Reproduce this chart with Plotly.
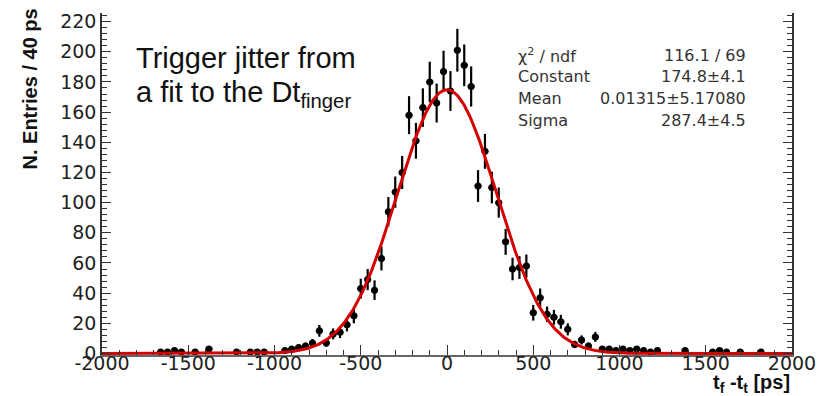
import numpy as np
import plotly.graph_objects as go

# Histogram bin centres (ps) and entries (only non-empty bins drawn)
bin_centers = [-1660, -1620, -1580, -1540, -1460, -1380, -1220, -1140, -1100, -1060,
               -940, -900, -860, -820, -780, -740, -700, -660, -620, -580,
               -540, -500, -460, -420, -380, -340, -300, -260, -220, -180,
               -140, -100, -60, -20, 20, 60, 100, 140, 180, 220,
               260, 300, 340, 380, 420, 460, 500, 540, 580, 620,
               660, 700, 740, 780, 820, 860, 900, 940, 980, 1020,
               1060, 1100, 1140, 1180, 1220, 1380, 1540, 1580, 1620, 1700, 1820]
entries = [1, 1, 2, 1, 1, 3, 1, 1, 1, 1,
           2, 3, 4, 5, 7, 15, 7, 13, 14, 19,
           25, 43, 49, 42, 63, 94, 107, 120, 158, 141,
           163, 180, 166, 187, 174, 201, 191, 177, 111, 134,
           110, 100, 74, 56, 57, 58, 27, 37, 26, 24,
           21, 16, 6, 9, 5, 11, 3, 3, 2, 3,
           2, 3, 2, 1, 2, 2, 1, 2, 1, 1, 1]
bin_half_width = 20

# Fit parameters (Gaussian)
fit_constant = 174.8
fit_mean = 0.01315
fit_sigma = 287.4

x_tick_vals = [-2000, -1500, -1000, -500, 0, 500, 1000, 1500, 2000]
x_tick_text = ["-2000", "-1500", "-1000", "-500", "0", "500", "1000", "1500", "2000"]
y_tick_vals = list(range(0, 221, 20))

stat_names = ["χ<sup>2</sup> / ndf", "Constant", "Mean", "Sigma"]
stat_values = ["116.1 / 69", "174.8±4.1", "0.01315±5.17080", "287.4±4.5"]

errs = np.sqrt(np.array(entries, dtype=float))
xf = np.linspace(-2000, 2000, 801)
yf = fit_constant * np.exp(-0.5 * ((xf - fit_mean) / fit_sigma) ** 2)

fig = go.Figure()
fig.add_trace(go.Scatter(
    x=bin_centers, y=entries, mode="markers",
    marker=dict(symbol="circle", size=7, color="black"),
    error_y=dict(type="data", array=errs, thickness=2.2, width=0, color="black"),
    error_x=dict(type="constant", value=bin_half_width, thickness=2.2, width=0, color="black"),
    showlegend=False, hoverinfo="skip"))
fig.add_trace(go.Scatter(
    x=xf, y=yf, mode="lines", line=dict(color="#d40000", width=3),
    showlegend=False, hoverinfo="skip"))

tick_font = dict(family="DejaVu Sans", size=19, color="#222")

fig.update_layout(
    width=829, height=396,
    margin=dict(l=102, r=37, t=10, b=41),
    paper_bgcolor="white", plot_bgcolor="white",
    xaxis=dict(range=[-2000, 2000], tickvals=x_tick_vals, ticktext=x_tick_text,
               ticks="inside", ticklen=10, tickwidth=1.2, tickcolor="#333",
               minor=dict(dtick=100, tick0=0, ticks="inside", ticklen=5, tickcolor="#333"),
               showline=True, linecolor="#666", linewidth=1.5, ticklabelstandoff=-10,
               showgrid=False, zeroline=False, tickfont=tick_font),
    yaxis=dict(range=[-1, 225.7], tickvals=y_tick_vals,
               ticks="inside", ticklen=9, tickwidth=1.2, tickcolor="#333",
               minor=dict(dtick=4, tick0=0, ticks="inside", ticklen=5, tickcolor="#333"),
               showline=True, linecolor="#333", linewidth=1.5, mirror="ticks",
               showgrid=False, zeroline=False, tickfont=tick_font),
)

ann = []
# y axis title
ann.append(dict(text="<b>N. Entries / 40 ps</b>", xref="paper", yref="paper",
                x=(30 - 102) / 690, y=(353 - 4) / 343, xanchor="center", yanchor="top",
                textangle=-90, showarrow=False,
                font=dict(family="Liberation Sans", size=20, color="#111")))
# x axis title
ann.append(dict(text="<b>t<sub>f</sub> -t<sub>t</sub> [ps]</b>", xref="paper", yref="paper",
                x=1.0, y=(353 - 396) / 343, xanchor="right", yanchor="bottom",
                showarrow=False, font=dict(family="Liberation Sans", size=20, color="#111")))
# overlay text
ann.append(dict(text="Trigger jitter from", xref="paper", yref="paper",
                x=(134 - 102) / 690, y=(353 - 55) / 343, xanchor="left", yanchor="middle",
                showarrow=False, font=dict(family="Liberation Sans", size=29, color="#111")))
ann.append(dict(text="a fit to the Dt<sub>finger</sub>", xref="paper", yref="paper",
                x=(134 - 102) / 690, y=(353 - 91) / 343, xanchor="left", yanchor="middle",
                showarrow=False, font=dict(family="Liberation Sans", size=29, color="#111")))
# stats box
row_y = [52.5, 74, 96, 118]
for name, val, ry in zip(stat_names, stat_values, row_y):
    ann.append(dict(text=name, xref="paper", yref="paper",
                    x=(516 - 102) / 690, y=(353 - ry) / 343, xanchor="left", yanchor="middle",
                    showarrow=False, font=dict(family="DejaVu Sans", size=16, color="#333")))
    ann.append(dict(text=val, xref="paper", yref="paper",
                    x=(748 - 102) / 690, y=(353 - ry) / 343, xanchor="right", yanchor="middle",
                    showarrow=False, font=dict(family="DejaVu Sans", size=16, color="#333")))
fig.update_layout(annotations=ann)

fig.write_html("out.html")
